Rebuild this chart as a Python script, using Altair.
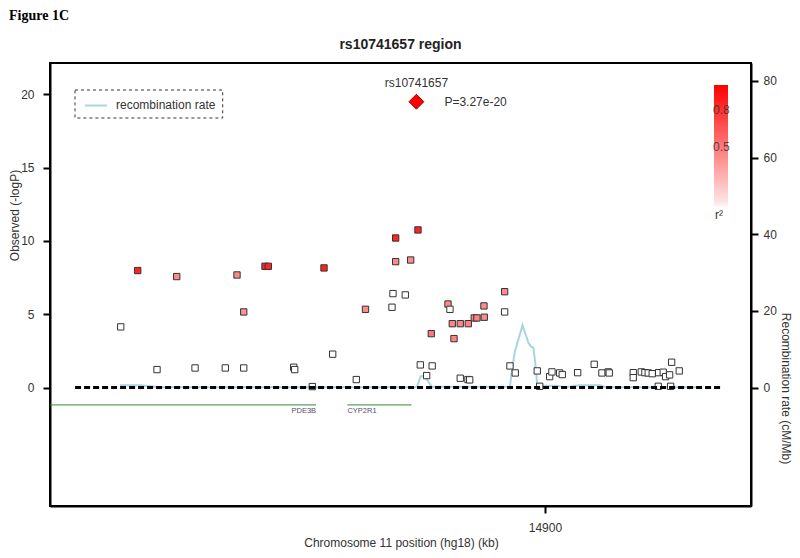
import altair as alt
import pandas as pd

# ---------------- data ----------------
snp_kb = [14805.29, 14809.08, 14813.39, 14817.79, 14821.88, 14828.64, 14831.25, 14832.75, 14832.75,
          14837.50, 14838.24, 14843.91, 14844.13, 14848.06, 14850.67, 14852.61, 14857.88, 14859.93,
          14865.85, 14866.07, 14866.67, 14866.67, 14868.82, 14870.02, 14871.65, 14872.17, 14873.59,
          14874.62, 14874.82, 14878.35, 14878.79, 14879.31, 14879.69, 14881.09, 14881.09, 14882.88,
          14882.81, 14883.19, 14884.22, 14884.82, 14886.38, 14886.45, 14891.00, 14891.00, 14892.19,
          14893.37, 14898.28, 14898.82, 14901.05, 14901.56, 14903.28, 14903.86, 14907.30, 14911.00,
          14912.72, 14914.13, 14914.35, 14919.71, 14919.71, 14921.50, 14922.32, 14923.06, 14923.95,
          14925.38, 14926.41, 14926.94, 14927.83, 14928.28, 14929.98, 14925.29, 14928.06]
snp_logp = [4.14, 7.98, 1.23, 7.57, 1.34, 1.34, 7.68, 5.16, 1.34,
            8.27, 8.27, 1.39, 1.23, 0.07, 8.16, 2.28, 0.55, 5.34,
            5.48, 6.41, 10.20, 8.59, 6.32, 8.70, 10.75, 1.55, 0.82,
            3.68, 1.48, 5.70, 5.34, 4.36, 3.34, 4.36, 0.64, 4.36,
            0.55, 0.53, 4.75, 4.75, 5.57, 4.80, 6.54, 5.16, 1.48,
            1.00, 1.14, 0.09, 0.75, 1.07, 1.00, 0.89, 1.02, 1.59,
            1.00, 1.07, 1.00, 1.02, 0.68, 1.07, 1.02, 1.00, 0.95,
            1.02, 1.05, 0.75, 0.87, 1.73, 1.14, 0.09, 0.09]
snp_r2 = [0.0, 0.85, 0.0, 0.42, 0.0, 0.0, 0.42, 0.38, 0.0,
          0.85, 0.85, 0.0, 0.0, 0.0, 0.85, 0.0, 0.0, 0.42,
          0.0, 0.0, 0.85, 0.42, 0.0, 0.42, 0.85, 0.0, 0.0,
          0.5, 0.0, 0.42, 0.0, 0.45, 0.45, 0.45, 0.0, 0.45,
          0.0, 0.0, 0.45, 0.45, 0.42, 0.42, 0.42, 0.0, 0.0,
          0.0, 0.0, 0.0, 0.0, 0.0, 0.0, 0.0, 0.0, 0.0,
          0.0, 0.0, 0.0, 0.0, 0.0, 0.0, 0.0, 0.0, 0.0,
          0.0, 0.0, 0.0, 0.0, 0.0, 0.0, 0.0, 0.0]

lead_name = ["rs10741657"]
lead_kb = [14871.3]
lead_logp = [19.49]
lead_ptext = ["P=3.27e-20"]

recomb_kb = [14805.1, 14809.6, 14814.1, 14871.4, 14872.25, 14873.2, 14874.7, 14891.7, 14892.2,
             14892.6, 14893.3, 14895.0, 14896.3, 14896.9, 14897.4, 14897.8, 14898.3, 14899.5,
             14902.7, 14904.5, 14907.8, 14912.3, 14913.5, 14934.6]
recomb_rate = [0.6, 0.6, 0.1, 0.1, 3.0, 3.0, 0.2, 0.2, 0.4,
               4.3, 9.5, 16.3, 11.7, 10.7, 10.4, 6.9, 0.4, 0.5,
               0.5, 0.1, 0.6, 0.6, 0.1, 0.1]

gene_names = ["PDE3B", "CYP2R1"]
gene_start = [14621.0, 14855.9]
gene_end = [14848.9, 14870.2]
gene_strand = ["+", "-"]
gene_row = [-1.18, -1.18]

baseline_kb = [14795.1, 14939.7]
baseline_y = [0.0, 0.0]

x_domain = [14789.5, 14946.0]
x_ticks = [14900]
y_domain = [-8.07, 22.13]
y_ticks = [0, 5, 10, 15, 20]
r_domain = [-30.88, 84.69]
r_ticks = [0, 20, 40, 60, 80]
r2_ticks = [0.5, 0.8]

# ---------------- frames ----------------
snp_df = pd.DataFrame({"kb": snp_kb, "logp": snp_logp, "r2": snp_r2})
lead_df = pd.DataFrame({"kb": lead_kb, "logp": lead_logp, "name": lead_name, "ptext": lead_ptext})
rec_df = pd.DataFrame({"kb": recomb_kb, "rate": recomb_rate})
gene_df = pd.DataFrame({"name": gene_names, "start": gene_start, "end": gene_end,
                        "strand": gene_strand, "row": gene_row})
base_df = pd.DataFrame({"x1": [baseline_kb[0]], "x2": [baseline_kb[1]], "y": [baseline_y[0]]})
one = pd.DataFrame({"a": [0]})

FONT = "Liberation Sans"
TXT = "#333333"
xscale = alt.Scale(domain=x_domain, nice=False, zero=False)
yscale = alt.Scale(domain=y_domain, nice=False, zero=False)

x_axis = alt.Axis(values=x_ticks, format="d", title="Chromosome 11 position (hg18) (kb)",
                  titleX=351, titleY=36, titleBaseline="middle", titleAlign="center",
                  labelPadding=9)
y_axis = alt.Axis(values=y_ticks, orient="left", title="Observed (-logP)",
                  titleX=-36, titleY=152, titleAngle=270, titleBaseline="middle",
                  titleAlign="center", labelPadding=9)


def X(field):
    return alt.X(field, scale=xscale, axis=x_axis)


def Y(field):
    return alt.Y(field, scale=yscale, axis=y_axis)


points = alt.Chart(snp_df).mark_square(size=40, stroke="#333333", strokeWidth=1, opacity=1).encode(
    x=X("kb:Q"),
    y=Y("logp:Q"),
    fill=alt.Fill("r2:Q",
                  scale=alt.Scale(domain=[0, 0.05, 1], range=["#ffffff", "#fde4e4", "#ff0000"],
                                  interpolate="rgb"),
                  legend=alt.Legend(orient="none", legendX=664, legendY=22, direction="vertical",
                                    gradientLength=123, gradientThickness=14, values=r2_ticks,
                                    format=".1f", labelOffset=alt.ExprRef(expr="-15"),
                                    labelBaseline="middle", labelFontSize=12, labelFont=FONT,
                                    labelColor=TXT, labelOpacity=0.85,
                                    title=None, padding=0, gradientStrokeWidth=0)),
)

baseline = alt.Chart(base_df).mark_rule(color="black", strokeWidth=3, strokeDash=[6, 3]).encode(
    x=X("x1:Q"), x2="x2:Q", y=Y("y:Q"),
)

genes = alt.Chart(gene_df).mark_rule(color="#2e8b2e", strokeWidth=1, clip=True).encode(
    x=X("start:Q"), x2="end:Q", y=Y("row:Q"),
)
gene_lab_plus = alt.Chart(gene_df).transform_filter(alt.datum.strand == "+").mark_text(
    align="right", baseline="middle", dy=6, fontSize=7.5, font=FONT, color="#5a4a6a").encode(
    x=X("end:Q"), y=Y("row:Q"), text="name:N",
)
gene_lab_minus = alt.Chart(gene_df).transform_filter(alt.datum.strand == "-").mark_text(
    align="left", baseline="middle", dy=6, fontSize=7.5, font=FONT, color="#5a4a6a").encode(
    x=X("start:Q"), y=Y("row:Q"), text="name:N",
)

lead = alt.Chart(lead_df).mark_point(shape="diamond", filled=True, size=220, fill="#ff0000",
                                     stroke="#990000", strokeWidth=1, opacity=1).encode(
    x=X("kb:Q"), y=Y("logp:Q"),
)
lead_name_t = alt.Chart(lead_df).mark_text(dy=-19, fontSize=12, font=FONT, color=TXT,
                                           baseline="middle").encode(
    x=X("kb:Q"), y=Y("logp:Q"), text="name:N",
)
lead_p_t = alt.Chart(lead_df).mark_text(dx=28, align="left", fontSize=12, font=FONT, color=TXT,
                                        baseline="middle").encode(
    x=X("kb:Q"), y=Y("logp:Q"), text="ptext:N",
)

# recombination legend box
leg_box = alt.Chart(one).mark_rect(fill="white", fillOpacity=0, stroke="#333333", strokeWidth=1,
                                   strokeDash=[3, 3]).encode(
    x=alt.value(25), x2=alt.value(172.7), y=alt.value(27), y2=alt.value(55))
leg_line = alt.Chart(one).mark_rule(color="#a8d5de", strokeWidth=2).encode(
    x=alt.value(35), x2=alt.value(57), y=alt.value(42.5))
leg_text = alt.Chart(one).mark_text(align="left", baseline="middle", fontSize=12, font=FONT,
                                    color=TXT).encode(
    x=alt.value(66), y=alt.value(42), text=alt.value("recombination rate"))

r2_title = alt.Chart(one).mark_text(align="center", baseline="middle", fontSize=12, font=FONT,
                                    color=TXT).encode(
    x=alt.value(669), y=alt.value(152), text=alt.value("r²"))

main_title = alt.Chart(one).mark_text(align="center", baseline="middle", fontSize=14,
                                      fontWeight="bold", font=FONT, color="#222222").encode(
    x=alt.value(350.5), y=alt.value(-18), text=alt.value("rs10741657 region"))
fig_label = alt.Chart(one).mark_text(align="left", baseline="top", fontSize=14,
                                     fontWeight="bold", font="Liberation Serif", color="black").encode(
    x=alt.value(-41), y=alt.value(-54), text=alt.value("Figure 1C"))

recomb = alt.Chart(rec_df).mark_line(color="#a8d5de", strokeWidth=2, clip=True).encode(
    x=X("kb:Q"),
    y=alt.Y("rate:Q", scale=alt.Scale(domain=r_domain, nice=False, zero=False),
            axis=alt.Axis(values=r_ticks, orient="right", title="Recombination rate (cM/Mb)",
                          titleX=34, titleY=325, titleAngle=90, titleBaseline="middle",
                          titleAlign="center", labelPadding=5)),
)

inner = alt.layer(points, baseline, genes, gene_lab_plus, gene_lab_minus, lead, lead_name_t,
                  lead_p_t, leg_box, leg_line, leg_text, r2_title, main_title, fig_label)

chart = alt.layer(recomb, inner).resolve_scale(y="independent").properties(
    width=701, height=443,
    autosize=alt.AutoSizeParams(type="none"),
    padding={"left": 42, "top": 55, "right": 41, "bottom": 44},
).configure_view(stroke="black", strokeWidth=2).configure_axis(
    domainColor="black", domainWidth=2, tickColor="black", tickWidth=2, tickSize=7,
    labelFont=FONT, labelFontSize=12, labelColor=TXT, titleFont=FONT, titleFontSize=12,
    titleColor=TXT, titleFontWeight="normal", grid=False,
)

chart.save("out.html", embed_options={"renderer": "svg", "actions": False})
